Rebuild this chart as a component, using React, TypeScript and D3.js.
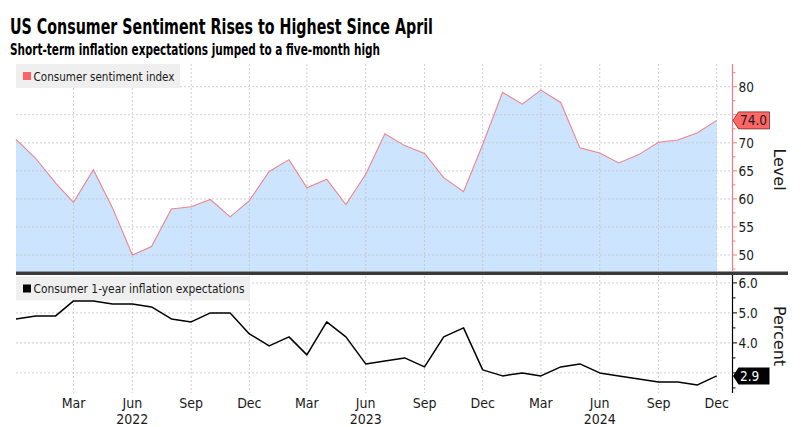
import React from "react";
import * as d3 from "d3";

const months = [
  "2021-12",
  "2022-01","2022-02","2022-03","2022-04","2022-05","2022-06","2022-07","2022-08","2022-09","2022-10","2022-11","2022-12",
  "2023-01","2023-02","2023-03","2023-04","2023-05","2023-06","2023-07","2023-08","2023-09","2023-10","2023-11","2023-12",
  "2024-01","2024-02","2024-03","2024-04","2024-05","2024-06","2024-07","2024-08","2024-09","2024-10","2024-11","2024-12",
];
const sentiment = [
  70.6,
  67.2, 62.8, 59.4, 65.2, 58.4, 50.0, 51.5, 58.2, 58.6, 59.9, 56.8, 59.7,
  64.9, 67.0, 62.0, 63.5, 59.0, 64.4, 71.6, 69.5, 68.1, 63.8, 61.3, 69.7,
  79.0, 76.9, 79.4, 77.2, 69.1, 68.2, 66.4, 67.9, 70.1, 70.5, 71.8, 74.0,
];
const inflation = [
  4.8,
  4.9, 4.9, 5.4, 5.4, 5.3, 5.3, 5.2, 4.8, 4.7, 5.0, 5.0, 4.3,
  3.9, 4.2, 3.6, 4.7, 4.2, 3.3, 3.4, 3.5, 3.2, 4.2, 4.5, 3.1,
  2.9, 3.0, 2.9, 3.2, 3.3, 3.0, 2.9, 2.8, 2.7, 2.7, 2.6, 2.9,
];
const tickMonths = [
  "2022-03","2022-06","2022-09","2022-12",
  "2023-03","2023-06","2023-09","2023-12",
  "2024-03","2024-06","2024-09","2024-12",
];
const yearLabels = ["2022", "2023", "2024"];
const levelTicks = [50, 55, 60, 65, 70, 75, 80];
const levelMinor = [47.5, 52.5, 57.5, 62.5, 67.5, 72.5, 77.5, 82.5];
const pctTicks = [3, 4, 5, 6];
const pctMinor = [2.5, 3.5, 4.5, 5.5];

const TITLE = "US Consumer Sentiment Rises to Highest Since April";
const SUBTITLE = "Short-term inflation expectations jumped to a five-month high";
const LEG1 = "Consumer sentiment index";
const LEG2 = "Consumer 1-year inflation expectations";

const FONT = "'DejaVu Sans Condensed', 'DejaVu Sans', sans-serif";
const parse = d3.timeParse("%Y-%m");

export default function App() {
  const dates = months.map((m) => parse(m) as Date);
  const x = d3
    .scaleTime()
    .domain([dates[0], dates[dates.length - 1]])
    .range([16, 716.7]);

  const topY0 = 64, topY1 = 271.5;
  const botY0 = 275, botY1 = 393;
  const axisX = 732.5;

  const yTop = d3.scaleLinear().domain([46.97, 84.05]).range([272, 64]);
  const yBot = d3.scaleLinear().domain([2.33, 6.27]).range([393, 274.8]);

  const area = d3
    .area<number>()
    .x((_, i) => x(dates[i]))
    .y0(topY1)
    .y1((d) => yTop(d));
  const lineTop = d3
    .line<number>()
    .x((_, i) => x(dates[i]))
    .y((d) => yTop(d));
  const lineBot = d3
    .line<number>()
    .x((_, i) => x(dates[i]))
    .y((d) => yBot(d));

  const fmtMon = d3.timeFormat("%b");
  const tickDates = tickMonths.map((m) => parse(m) as Date);

  const lastS = sentiment[sentiment.length - 1];
  const lastI = inflation[inflation.length - 1];
  const ys = yTop(lastS);
  const yi = yBot(lastI);
  const tag = (yc: number) =>
    `M${axisX + 0.5},${yc} L${axisX + 6},${yc - 8.5} L769.5,${yc - 8.5} L769.5,${yc + 8.5} L${axisX + 6},${yc + 8.5} Z`;

  const grid = "#c4c4c4";

  return (
    <svg
      width={801}
      height={427}
      style={{ position: "absolute", left: 0, top: 0, background: "#fff" }}
      fontFamily={FONT}
    >
      <rect x={0} y={0} width={801} height={427} fill="#ffffff" />
      {/* Titles */}
      <text x={10} y={34} fontSize={21} fontWeight="bold" fill="#000" textLength={423} lengthAdjust="spacingAndGlyphs">
        {TITLE}
      </text>
      <text x={10} y={54.5} fontSize={16} fontWeight="bold" fill="#000" textLength={370} lengthAdjust="spacingAndGlyphs">
        {SUBTITLE}
      </text>

      {/* Top area */}
      <path d={area(sentiment) || ""} fill="#cce4fd" />

      {/* Horizontal grid top */}
      {levelTicks.map((t) => (
        <line key={"hg" + t} x1={16} x2={axisX} y1={yTop(t)} y2={yTop(t)} stroke={grid} strokeWidth={0.8} strokeDasharray="2,2" />
      ))}
      {/* Horizontal grid bottom */}
      {pctTicks.map((t) => (
        <line key={"hb" + t} x1={16} x2={axisX} y1={yBot(t)} y2={yBot(t)} stroke={grid} strokeWidth={0.8} strokeDasharray="2,2" />
      ))}
      {/* Vertical grid */}
      {tickDates.map((d, i) => (
        <line key={"vg" + i} x1={x(d)} x2={x(d)} y1={topY0} y2={botY1} stroke={grid} strokeWidth={0.8} strokeDasharray="2,2" />
      ))}

      {/* Top line */}
      <path d={lineTop(sentiment) || ""} fill="none" stroke="#f0838c" strokeWidth={1.1} />

      {/* Legends */}
      <rect x={16} y={64} width={164} height={24} fill="#efefef" />
      <rect x={23} y={72} width={8} height={8} fill="#ff6464" />
      <text x={33.5} y={80.5} fontSize={12} fill="#1a1a1a" textLength={141} lengthAdjust="spacingAndGlyphs">
        {LEG1}
      </text>

      {/* Separator */}
      <rect x={16} y={271.5} width={772} height={3.5} fill="#3a3a3a" />

      <rect x={16} y={276.5} width={234} height={24} fill="#efefef" />
      <rect x={23} y={284.5} width={8} height={8} fill="#000" />
      <text x={33.5} y={293} fontSize={12} fill="#1a1a1a" textLength={211} lengthAdjust="spacingAndGlyphs">
        {LEG2}
      </text>

      {/* Bottom line */}
      <path d={lineBot(inflation) || ""} fill="none" stroke="#000" strokeWidth={1.5} strokeLinejoin="round" />

      {/* Right axis top */}
      <line x1={axisX} x2={axisX} y1={topY0} y2={topY1} stroke="#f07c84" strokeWidth={1.2} />
      {levelMinor.map((t) => (
        <line key={"lm" + t} x1={axisX} x2={axisX + 3} y1={yTop(t)} y2={yTop(t)} stroke="#f07c84" strokeWidth={1} />
      ))}
      {levelTicks.map((t) => (
        <g key={"lt" + t}>
          <line x1={axisX} x2={axisX + 4.5} y1={yTop(t)} y2={yTop(t)} stroke="#f07c84" strokeWidth={1} />
          {Math.abs(yTop(t) - ys) > 12 && (
            <text x={738.5} y={yTop(t)} dy="0.36em" fontSize={13.5} fill="#1a1a1a">
              {t}
            </text>
          )}
        </g>
      ))}
      <text
        transform={`translate(774,169.5) rotate(90)`}
        textAnchor="middle"
        fontSize={16}
        fill="#1a1a1a"
        fontFamily="'DejaVu Sans', sans-serif"
      >
        Level
      </text>

      {/* Right axis bottom */}
      <line x1={axisX} x2={axisX} y1={botY0} y2={botY1} stroke="#000" strokeWidth={1.2} />
      {pctMinor.map((t) => (
        <line key={"pm" + t} x1={axisX} x2={axisX + 3} y1={yBot(t)} y2={yBot(t)} stroke="#000" strokeWidth={1} />
      ))}
      {pctTicks.map((t) => (
        <g key={"pt" + t}>
          <line x1={axisX} x2={axisX + 4.5} y1={yBot(t)} y2={yBot(t)} stroke="#000" strokeWidth={1} />
          {Math.abs(yBot(t) - yi) > 12 && (
            <text x={738.5} y={yBot(t)} dy="0.36em" fontSize={13.5} fill="#1a1a1a">
              {d3.format(".1f")(t)}
            </text>
          )}
        </g>
      ))}
      <text
        transform={`translate(774,336) rotate(90)`}
        textAnchor="middle"
        fontSize={16}
        fill="#1a1a1a"
        fontFamily="'DejaVu Sans', sans-serif"
      >
        Percent
      </text>

      {/* Value tags */}
      <path d={tag(ys)} fill="#ff6767" stroke="#7a2a2a" strokeWidth={0.8} />
      <text x={740} y={ys} dy="0.36em" fontSize={13.5} fill="#1a1a1a">
        {d3.format(".1f")(lastS)}
      </text>
      <path d={tag(yi)} fill="#000" />
      <text x={740} y={yi} dy="0.36em" fontSize={13.5} fill="#fff">
        {d3.format(".1f")(lastI)}
      </text>

      {/* X axis labels */}
      {tickDates.map((d, i) => (
        <text key={"xl" + i} x={x(d)} y={408} textAnchor="middle" fontSize={14} fill="#1a1a1a">
          {fmtMon(d)}
        </text>
      ))}
      {yearLabels.map((yr) => (
        <text key={"yr" + yr} x={x(parse(yr + "-06") as Date)} y={423.5} textAnchor="middle" fontSize={14} fill="#1a1a1a">
          {yr}
        </text>
      ))}
    </svg>
  );
}
